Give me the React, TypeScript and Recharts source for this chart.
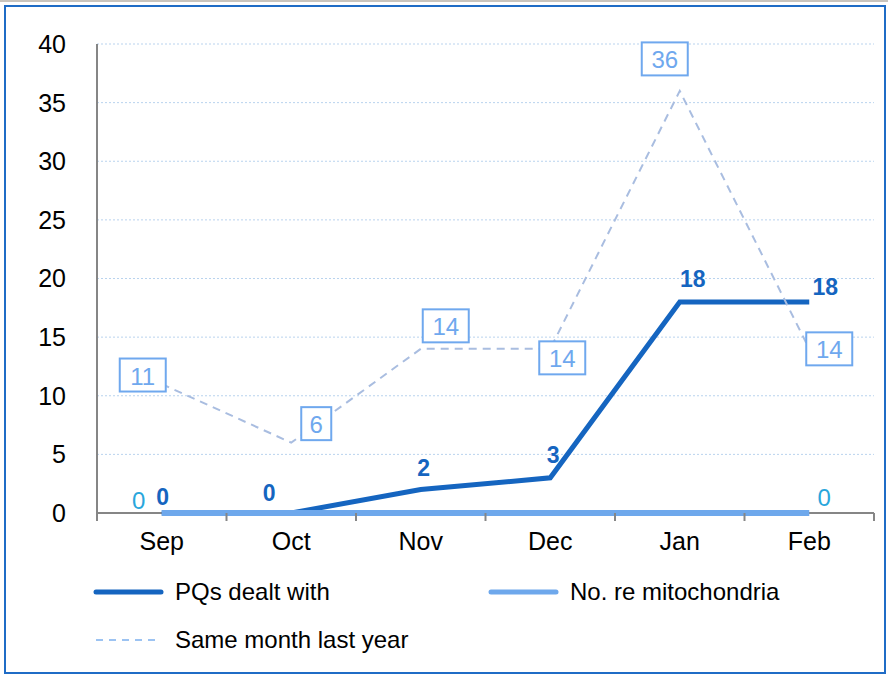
import React from 'react';
import { LineChart, Line, XAxis, YAxis, CartesianGrid, LabelList } from 'recharts';

const months = ['Sep', 'Oct', 'Nov', 'Dec', 'Jan', 'Feb'];
const pqsDealtWith = [0, 0, 2, 3, 18, 18];
const mitochondria = [0, 0, 0, 0, 0, 0];
const lastYear = [11, 6, 14, 14, 36, 14];
const yTicks = [0, 5, 10, 15, 20, 25, 30, 35, 40];

const data = months.map((m, i) => ({
  month: m,
  pqs: pqsDealtWith[i],
  mito: mitochondria[i],
  last: lastYear[i],
}));

const FONT = '"Liberation Sans", Arial, sans-serif';
const DARK = '#1565C0';
const MID = '#6EA8EC';
const DASH = '#A9BDE0';
const BOX = '#6FA8EE';
const AXIS = '#868686';

const W = 888;
const H = 676;
const PLOT_LEFT = 97;
const PLOT_RIGHT = 874;
const PLOT_BOTTOM = 513;
const BAND = (PLOT_RIGHT - PLOT_LEFT) / months.length;

// label nudges, per point
const pqOffsets = [[1, -16], [-22, -20], [3, -22], [3, -23], [13, -23], [16, -15]];
const lastOffsets = [[-19, -9], [25, -19], [25, -23], [12, 9], [-15, -32], [20, 0]];

// grid lines; the bottom one doubles as the x axis line so the series sit on top of it
const GridLine = (props: any) => {
  const { x1, x2, y1, y2 } = props;
  if (Math.abs(y1 - PLOT_BOTTOM) < 1) {
    return <line x1={x1} x2={x2} y1={y1} y2={y2} stroke={AXIS} strokeWidth={2} />;
  }
  return <line x1={x1} x2={x2} y1={y1} y2={y2} stroke="#B9D3EE" strokeDasharray="2 2" />;
};

const MonthTick = (props: any) => {
  const { x, y, payload, index } = props;
  const last = index === months.length - 1;
  return (
    <g>
      <line x1={x - BAND / 2} x2={x - BAND / 2} y1={y} y2={y + 8} stroke={AXIS} strokeWidth={2} />
      {last && <line x1={x + BAND / 2} x2={x + BAND / 2} y1={y} y2={y + 8} stroke={AXIS} strokeWidth={2} />}
      <text x={x} y={y + 37} textAnchor="middle" fontSize={25} fill="#000" fontFamily={FONT}>
        {payload.value}
      </text>
    </g>
  );
};

const PqLabel = (props: any) => {
  const { x, y, value, index } = props;
  const [dx, dy] = pqOffsets[index];
  return (
    <text x={x + dx} y={y + dy} textAnchor="middle" dominantBaseline="central" fontSize={23} fontWeight="bold" fill={DARK} fontFamily={FONT}>
      {value}
    </text>
  );
};

const MitoLabel = (props: any) => {
  const { x, y, value, index } = props;
  if (index !== 0 && index !== months.length - 1) return null;
  const dx = index === 0 ? -23 : 15;
  const dy = index === 0 ? -13 : -16;
  return (
    <text x={x + dx} y={y + dy} textAnchor="middle" dominantBaseline="central" fontSize={24} fill="#29A6DC" fontFamily={FONT}>
      {value}
    </text>
  );
};

const BoxLabel = (props: any) => {
  const { x, y, value, index } = props;
  const [dx, dy] = lastOffsets[index];
  const w = String(value).length > 1 ? 46 : 30;
  const h = 33;
  const cx = x + dx;
  const cy = y + dy;
  return (
    <g>
      <rect x={cx - w / 2} y={cy - h / 2} width={w} height={h} fill="#fff" stroke={BOX} strokeWidth={2} />
      <text x={cx} y={cy + 1} textAnchor="middle" dominantBaseline="central" fontSize={24} fill={BOX} fontFamily={FONT}>
        {value}
      </text>
    </g>
  );
};

const LegendRow = ({ top, left, color, dashed, label }: any) => (
  <div style={{ position: 'absolute', top: top - 15, left, height: 30, display: 'flex', alignItems: 'center' }}>
    <svg width={74} height={30}>
      <line x1={3} x2={68} y1={15} y2={15} stroke={color} strokeWidth={dashed ? 2 : 5} strokeLinecap={dashed ? 'butt' : 'round'} strokeDasharray={dashed ? '7 6' : undefined} />
    </svg>
    <span style={{ fontFamily: FONT, fontSize: 24, color: '#000', marginLeft: 8 }}>{label}</span>
  </div>
);

export default function App() {
  return (
    <div style={{ position: 'absolute', left: 0, top: 0, width: W, height: H, background: '#fff' }}>
      <div style={{ position: 'absolute', left: 0, top: 0, width: W, height: 2, background: '#c9c4bd' }} />
      <div style={{ position: 'absolute', left: 4, top: 5, width: 878, height: 665, border: '2px solid #1F6CC6' }} />
      <LineChart width={W} height={H} data={data} margin={{ top: 44, right: W - PLOT_RIGHT, left: 0, bottom: H - PLOT_BOTTOM - 40 }}>
        <CartesianGrid vertical={false} horizontal={<GridLine />} />
        <XAxis
          dataKey="month"
          height={40}
          padding={{ left: BAND / 2, right: BAND / 2 }}
          axisLine={false}
          tickLine={false}
          tickSize={0}
          tickMargin={0}
          tick={<MonthTick />}
          interval={0}
        />
        <YAxis
          width={PLOT_LEFT}
          domain={[0, 40]}
          ticks={yTicks}
          axisLine={{ stroke: AXIS, strokeWidth: 2 }}
          tickLine={false}
          tickSize={0}
          tickMargin={31}
          tick={{ fontSize: 25, fill: '#000', fontFamily: FONT }}
        />
        <Line dataKey="pqs" stroke={DARK} strokeWidth={5} dot={false} isAnimationActive={false}>
          <LabelList dataKey="pqs" content={<PqLabel />} />
        </Line>
        <Line dataKey="mito" stroke={MID} strokeWidth={6} dot={false} isAnimationActive={false}>
          <LabelList dataKey="mito" content={<MitoLabel />} />
        </Line>
        <Line dataKey="last" stroke={DASH} strokeWidth={2} strokeDasharray="8 6" dot={false} isAnimationActive={false}>
          <LabelList dataKey="last" content={<BoxLabel />} />
        </Line>
      </LineChart>
      <LegendRow top={592} left={93} color={DARK} label="PQs dealt with" />
      <LegendRow top={592} left={488} color={MID} label="No. re mitochondria" />
      <LegendRow top={640} left={93} color="#9CC3F2" dashed label="Same month last year" />
    </div>
  );
}
